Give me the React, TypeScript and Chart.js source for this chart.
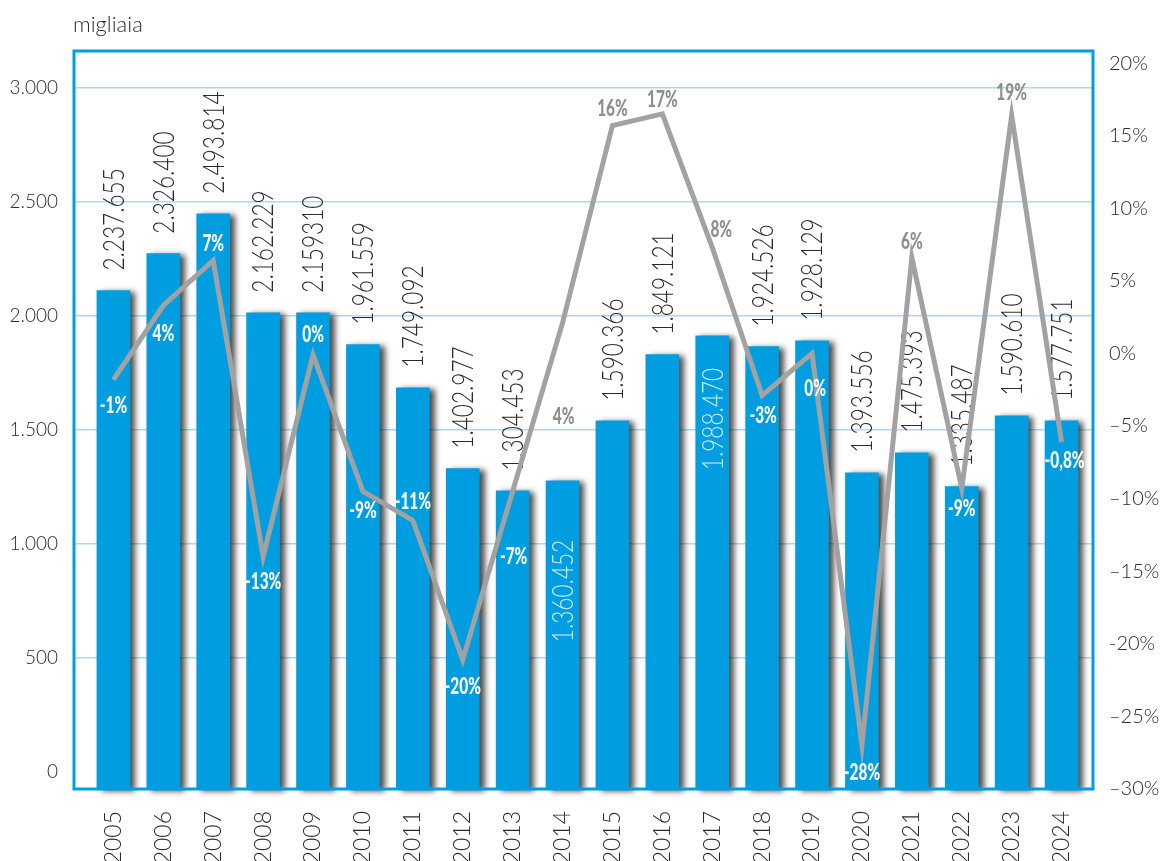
import React, { useEffect, useRef } from 'react';
import { Chart, registerables } from 'chart.js';

Chart.register(...registerables);

// ---------- data ----------
const years = ['2005', '2006', '2007', '2008', '2009', '2010', '2011', '2012', '2013', '2014', '2015', '2016', '2017', '2018', '2019', '2020', '2021', '2022', '2023', '2024'];

// bar heights as pictured (migliaia, left axis)
const barValues = [2110, 2272, 2447, 2013, 2013, 1873, 1684, 1329, 1232, 1276, 1539, 1829, 1912, 1864, 1890, 1311, 1399, 1250, 1561, 1539];

// printed value labels
const barLabels = ['2.237.655', '2.326.400', '2.493.814', '2.162.229', '2.159310', '1.961.559', '1.749.092', '1.402.977', '1.304.453', '1.360.452', '1.590.366', '1.849.121', '1.988.470', '1.924.526', '1.928.129', '1.393.556', '1.475.393', '1.335.487', '1.590.610', '1.577.751'];

// labels drawn inside the bar (index -> px below bar top)
const insideLabelIdx = [9, 12];
const insideLabelGap = [59, 32];

// variation line as pictured (right axis, %)
const lineValues = [-1.8, 3.3, 6.4, -14.0, -0.1, -9.5, -11.5, -21.1, -9.5, 2.1, 15.7, 16.5, 7.3, -2.9, 0.0, -27.0, 6.6, -9.3, 16.4, -6.1];

// printed percentage labels
const pctLabels = ['-1%', '4%', '7%', '-13%', '0%', '-9%', '-11%', '-20%', '-7%', '4%', '16%', '17%', '8%', '-3%', '0%', '-28%', '6%', '-9%', '19%', '-0,8%'];
const grayPctIdx = [9, 10, 11, 12, 16, 18];
const pctLabelDy = [26, 28, -17, 25, -20, 20, -18, 27, 66, 94, -17, -14, -18, 20, 35, 27, -16, 20, -22, 19];
const pctLabelDx = [0, 0, 0, 0, 0, 0, 0, 0, 1, 1, 0, 0, 9, 1, 3, 0, 0, 0, 0, 3];

const leftTicks = [0, 500, 1000, 1500, 2000, 2500, 3000];
const leftTickLabels = ['0', '500', '1.000', '1.500', '2.000', '2.500', '3.000'];
const rightTicks = [-30, -25, -20, -15, -10, -5, 0, 5, 10, 15, 20];
const rightTickLabels = ['\u201330%', '\u201325%', '-20%', '\u201315%', '\u201310%', '\u20135%', '0%', '5%', '10%', '15%', '20%'];

const unitLabel = 'migliaia';

// axis ranges
const Y_MIN = -76;
const Y_MAX = 3161;
const Y1_MIN = -30;
const Y1_MAX = 20.83;
const X_MIN = -0.79;
const X_MAX = 19.63;

// ---------- style ----------
const BLUE = '#009EE0';
const GRID = '#A6DCF2';
const LINE = '#A2A2A2';
const TEXT = '#2b2b2b';
const FONT = 'Lato';

const shadowPlugin = {
  id: 'barShadowAndValues',
  beforeDatasetDraw(chart: any, args: any) {
    if (args.index !== 0) return;
    const ctx = chart.ctx;
    ctx.save();
    ctx.shadowColor = 'rgba(0,0,0,0.7)';
    ctx.shadowBlur = 6;
    ctx.shadowOffsetX = 5;
    ctx.shadowOffsetY = 2;
  },
  afterDatasetDraw(chart: any, args: any) {
    if (args.index !== 0) return;
    const ctx = chart.ctx;
    ctx.restore();
    // value labels (under the line)
    const xs = chart.scales.x;
    const ys = chart.scales.y;
    ctx.save();
    ctx.font = `300 29px ${FONT}`;
    ctx.textBaseline = 'middle';
    barLabels.forEach((txt, i) => {
      const x = xs.getPixelForValue(i);
      const top = ys.getPixelForValue(barValues[i]);
      const k = insideLabelIdx.indexOf(i);
      ctx.save();
      if (k >= 0) {
        ctx.translate(x, top + insideLabelGap[k]);
        ctx.rotate(-Math.PI / 2);
        ctx.scale(0.78, 1);
        ctx.textAlign = 'right';
        ctx.fillStyle = '#CDEBF9';
      } else {
        ctx.translate(x, top - 20);
        ctx.rotate(-Math.PI / 2);
        ctx.scale(0.78, 1);
        ctx.textAlign = 'left';
        ctx.fillStyle = TEXT;
      }
      ctx.fillText(txt, 0, 1);
      ctx.restore();
    });
    ctx.restore();
  },
};

const overlayPlugin = {
  id: 'overlay',
  afterDatasetsDraw(chart: any) {
    const ctx = chart.ctx;
    const xs = chart.scales.x;
    const y1 = chart.scales.y1;
    const a = chart.chartArea;
    ctx.save();
    // percentage labels
    ctx.font = `900 22px ${FONT}`;
    ctx.textAlign = 'center';
    ctx.textBaseline = 'middle';
    pctLabels.forEach((txt, i) => {
      const x = xs.getPixelForValue(i) + pctLabelDx[i];
      const y = y1.getPixelForValue(lineValues[i]) + pctLabelDy[i];
      ctx.save();
      ctx.translate(x, y);
      ctx.scale(0.7, 1);
      ctx.fillStyle = grayPctIdx.includes(i) ? '#8E8E8E' : '#FFFFFF';
      ctx.fillText(txt, 0, 0);
      ctx.restore();
    });
    // frame
    ctx.strokeStyle = BLUE;
    ctx.lineWidth = 3;
    ctx.strokeRect(a.left, a.top, a.right - a.left, a.bottom - a.top);
    // unit label
    ctx.font = `300 22px ${FONT}`;
    ctx.fillStyle = TEXT;
    ctx.textAlign = 'left';
    ctx.textBaseline = 'middle';
    ctx.fillText(unitLabel, a.left - 1, 25);
    ctx.restore();
  },
};

export default function App() {
  const ref = useRef<HTMLCanvasElement>(null);

  useEffect(() => {
    const canvas = ref.current;
    if (!canvas) return;
    const chart = new Chart(canvas, {
      type: 'bar',
      data: {
        datasets: [
          {
            type: 'bar',
            label: 'valori',
            data: barValues.map((v, i) => ({ x: i, y: v })),
            backgroundColor: BLUE,
            borderWidth: 0,
            barThickness: 33,
            base: Y_MIN,
            yAxisID: 'y',
            xAxisID: 'x',
            order: 1,
            clip: false,
          } as any,
          {
            type: 'line',
            label: 'variazione',
            data: lineValues.map((v, i) => ({ x: i, y: v })),
            borderColor: LINE,
            borderWidth: 5,
            pointRadius: 0,
            tension: 0,
            borderJoinStyle: 'miter',
            fill: false,
            yAxisID: 'y1',
            xAxisID: 'x',
            order: 0,
            clip: false,
          } as any,
        ],
      },
      options: {
        responsive: false,
        animation: false,
        devicePixelRatio: 1,
        layout: { padding: { top: 51, left: 0, right: 0, bottom: 0 } },
        plugins: {
          legend: { display: false },
          tooltip: { enabled: false },
          title: { display: false },
        },
        scales: {
          x: {
            type: 'linear',
            min: X_MIN,
            max: X_MAX,
            offset: false,
            grid: { display: false, drawTicks: false },
            border: { display: false },
            afterBuildTicks: (s: any) => {
              s.ticks = years.map((_, i) => ({ value: i }));
            },
            afterFit: (s: any) => {
              s.height = 72;
            },
            ticks: {
              autoSkip: false,
              minRotation: 90,
              maxRotation: 90,
              padding: 22,
              color: TEXT,
              font: { family: FONT, weight: '300', size: 23 },
              callback: (v: any) => years[v] ?? '',
            },
          },
          y: {
            type: 'linear',
            position: 'left',
            min: Y_MIN,
            max: Y_MAX,
            afterBuildTicks: (s: any) => {
              s.ticks = leftTicks.map((v) => ({ value: v }));
            },
            afterFit: (s: any) => {
              s.width = 74;
            },
            grid: {
              color: (c: any) => (c.tick && c.tick.value === 0 ? 'rgba(0,0,0,0)' : GRID),
              lineWidth: 1.5,
              drawTicks: false,
            },
            border: { display: false },
            ticks: {
              padding: 16,
              color: TEXT,
              font: { family: FONT, weight: '300', size: 19 },
              callback: (v: any) => leftTickLabels[leftTicks.indexOf(v)] ?? '',
            },
          },
          y1: {
            type: 'linear',
            position: 'right',
            min: Y1_MIN,
            max: Y1_MAX,
            afterBuildTicks: (s: any) => {
              s.ticks = rightTicks.map((v) => ({ value: v }));
            },
            afterFit: (s: any) => {
              s.width = 67;
            },
            grid: { display: false, drawTicks: false },
            border: { display: false },
            ticks: {
              padding: 16,
              color: TEXT,
              font: { family: FONT, weight: '300', size: 20 },
              callback: (v: any) => rightTickLabels[rightTicks.indexOf(v)] ?? '',
            },
          },
        },
      } as any,
      plugins: [shadowPlugin, overlayPlugin],
    });
    return () => chart.destroy();
  }, []);

  return (
    <div style={{ position: 'fixed', left: 0, top: 0, width: 1160, height: 861, background: '#ffffff' }}>
      <canvas ref={ref} width={1160} height={861} style={{ display: 'block', width: 1160, height: 861 }} />
    </div>
  );
}
